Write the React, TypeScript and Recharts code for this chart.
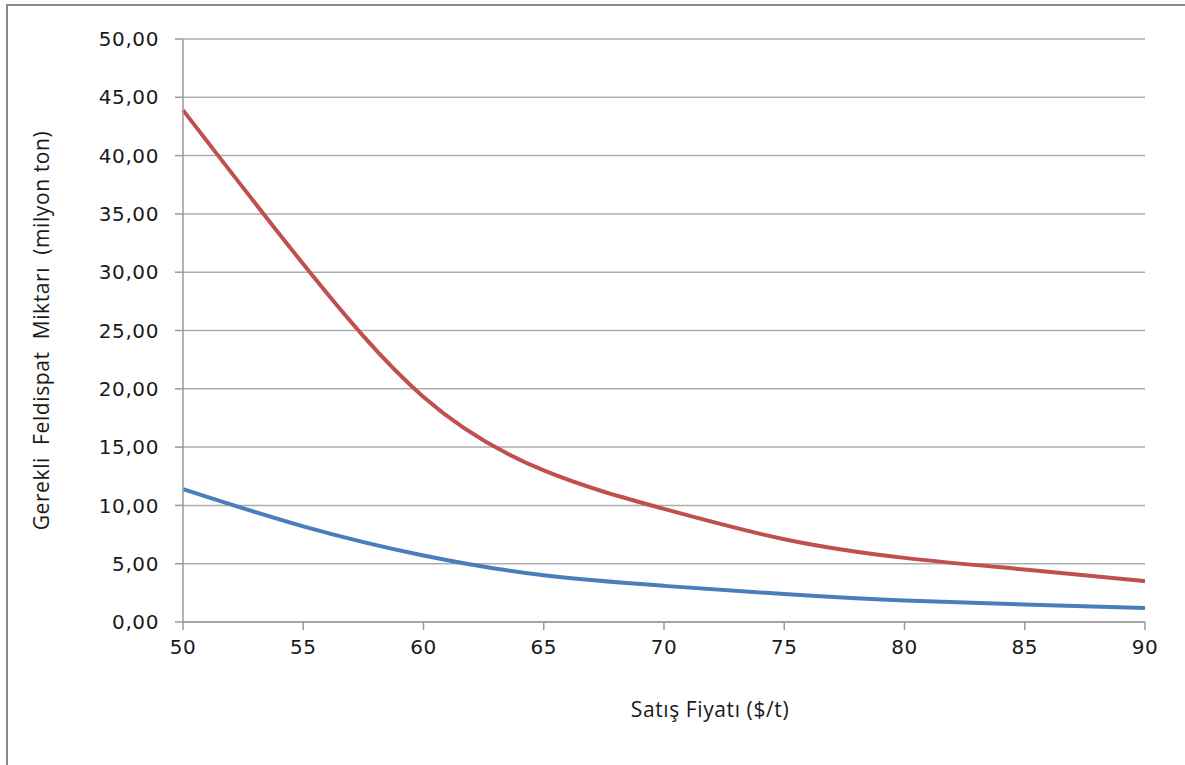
import React from 'react';
import { LineChart, Line, XAxis, YAxis, CartesianGrid } from 'recharts';

// Satış fiyatı ($/t)
const PRICES = [50, 55, 60, 65, 70, 75, 80, 85, 90];
// Gerekli feldispat miktarı (milyon ton), iki senaryo
const RED_SERIES = [43.9, 30.7, 19.3, 13.0, 9.7, 7.1, 5.5, 4.5, 3.5];
const BLUE_SERIES = [11.4, 8.2, 5.7, 4.0, 3.1, 2.4, 1.85, 1.5, 1.2];

const X_TICKS = [50, 55, 60, 65, 70, 75, 80, 85, 90];
const Y_TICKS = [0, 5, 10, 15, 20, 25, 30, 35, 40, 45, 50];

const X_TITLE = 'Satış Fiyatı ($/t)';
// non-breaking spaces keep the wide word gaps
const Y_TITLE = 'Gerekli\u00A0 Feldispat\u00A0 Miktarı\u00A0 (milyon ton)';

const data = PRICES.map((p, i) => ({ price: p, red: RED_SERIES[i], blue: BLUE_SERIES[i] }));

const fmt = (v: number) => v.toFixed(2).replace('.', ',');

const AXIS_GRAY = '#9a9a9a';
const TICK_FONT = { fontSize: 20, fill: '#1a1a1a', fontFamily: 'DejaVu Sans', letterSpacing: 0.6 };
const TITLE_FONT = { fontSize: 21, fill: '#1a1a1a', fontFamily: 'Open Sans', letterSpacing: 0.6 };

export default function App() {
  return (
    <div style={{ position: 'absolute', left: 0, top: 0, width: 1185, height: 765, background: '#fff', overflow: 'hidden' }}>
      <div
        style={{
          position: 'absolute', left: 6, top: 4, width: 1200, height: 800,
          borderTop: '2.5px solid #888', borderLeft: '2.5px solid #888',
        }}
      />
      <LineChart
        width={1185}
        height={765}
        data={data}
        margin={{ top: 39, right: 40, bottom: 0, left: 0 }}
        style={{ position: 'absolute', left: 0, top: 0 }}
      >
        <CartesianGrid vertical={false} stroke="#adadad" strokeWidth={1.5} />
        <XAxis
          dataKey="price"
          type="number"
          domain={[50, 90]}
          ticks={X_TICKS}
          height={143}
          stroke={AXIS_GRAY}
          strokeWidth={1.5}
          tickSize={8}
          tickMargin={10}
          tick={TICK_FONT}
          label={{ value: X_TITLE, position: 'insideTop', offset: 80, dx: 46, style: TITLE_FONT }}
        />
        <YAxis
          type="number"
          domain={[0, 50]}
          ticks={Y_TICKS}
          width={183}
          stroke={AXIS_GRAY}
          strokeWidth={1.5}
          tickSize={8}
          tickMargin={16}
          tick={TICK_FONT}
          tickFormatter={fmt}
          label={{ value: Y_TITLE, angle: -90, position: 'insideLeft', offset: 42, textAnchor: 'middle', style: TITLE_FONT }}
        />
        <Line type="natural" dataKey="red" stroke="#C0504D" strokeWidth={4} dot={false} isAnimationActive={false} />
        <Line type="natural" dataKey="blue" stroke="#4A7EBB" strokeWidth={4} dot={false} isAnimationActive={false} />
      </LineChart>
    </div>
  );
}
